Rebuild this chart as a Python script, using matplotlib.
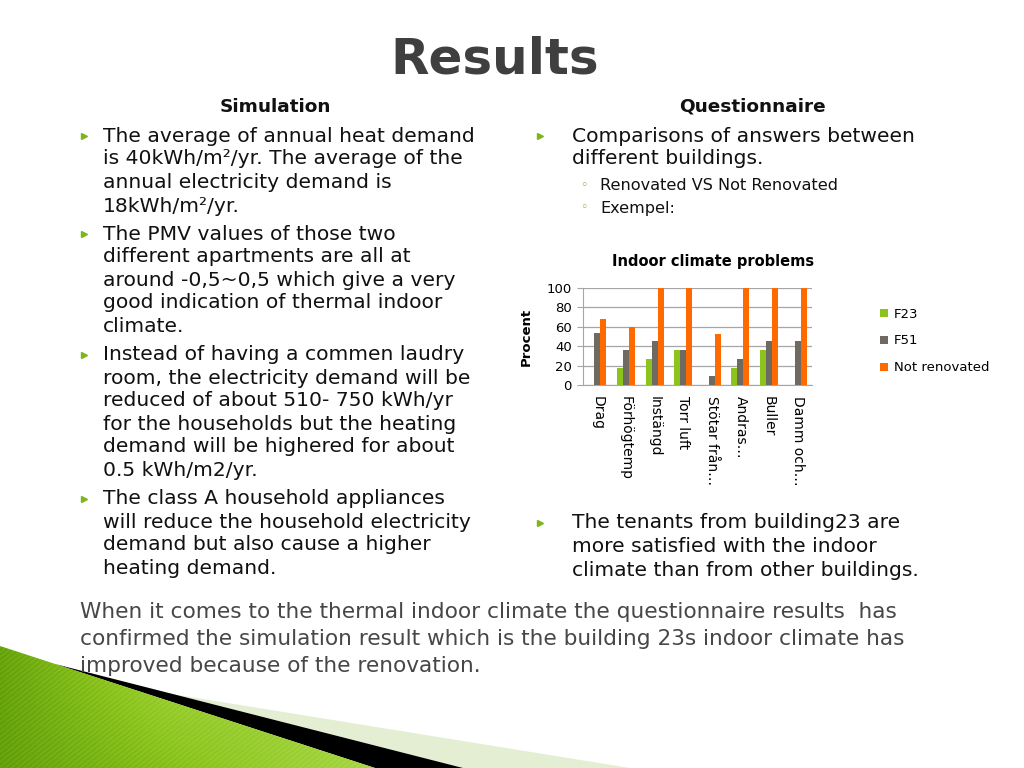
import numpy as np
import matplotlib
matplotlib.use("Agg")
import matplotlib.pyplot as plt
from matplotlib.patches import Polygon

# chart data
categories = ["Drag", "Förhögtemp", "Instängd", "Torr luft",
              "Stötar från…", "Andras…", "Buller", "Damm och…"]
f23 = [0, 18, 27, 36, 0, 18, 36, 0]
f51 = [54, 36, 45, 36, 9, 27, 45, 45]
not_renovated = [68, 60, 100, 100, 53, 100, 100, 100]
series_names = ["F23", "F51", "Not renovated"]
series_colors = ["#8CC31E", "#6E6A62", "#FF6A00"]
y_ticks = [0, 20, 40, 60, 80, 100]

left_lines = [
    ("The average of annual heat demand", True),
    ("is 40kWh/m²/yr. The average of the", False),
    ("annual electricity demand is", False),
    ("18kWh/m²/yr.", False),
    ("The PMV values of those two", True),
    ("different apartments are all at", False),
    ("around -0,5~0,5 which give a very", False),
    ("good indication of thermal indoor", False),
    ("climate.", False),
    ("Instead of having a commen laudry", True),
    ("room, the electricity demand will be", False),
    ("reduced of about 510- 750 kWh/yr", False),
    ("for the households but the heating", False),
    ("demand will be highered for about", False),
    ("0.5 kWh/m2/yr.", False),
    ("The class A household appliances", True),
    ("will reduce the household electricity", False),
    ("demand but also cause a higher", False),
    ("heating demand.", False),
]
left_y = [136, 159, 183, 206, 234, 257, 280, 303, 326,
          355, 378, 401, 424, 447, 471, 499, 522, 545, 568]

bottom_text = ["When it comes to the thermal indoor climate the questionnaire results  has",
               "confirmed the simulation result which is the building 23s indoor climate has",
               "improved because of the renovation."]

W, H = 1024, 768
fig = plt.figure(figsize=(W / 100, H / 100), dpi=100)
fig.patch.set_facecolor("white")

# slide layer in pixel coords
bg = fig.add_axes([0, 0, 1, 1])
bg.set_xlim(0, W)
bg.set_ylim(H, 0)
bg.axis("off")

txt = "#111111"
bullet_green = "#7DB51C"
body_fs = 14.6

# decoration bottom-left
pale = Polygon([[110, 684], [630, 768], [463, 768], [60, 666]], closed=True,
               facecolor="#E3EED3", edgecolor="none", zorder=1)
bg.add_patch(pale)
black = Polygon([[55, 664], [463, 768], [375, 768]], closed=True,
                facecolor="black", edgecolor="none", zorder=2)
bg.add_patch(black)
green = Polygon([[0, 646], [375, 768], [0, 768]], closed=True,
                facecolor="none", edgecolor="none", zorder=3)
bg.add_patch(green)
xx, yy = np.meshgrid(np.linspace(0, 1, 300), np.linspace(0, 1, 120))
grad = np.clip(0.45 + 0.6 * xx - 0.3 * yy - 0.6 * np.abs(xx - 0.45) * (1 - yy)
               + 0.06 * np.sin(xx * 380 + yy * 160), 0, 1)
cmap = matplotlib.colors.LinearSegmentedColormap.from_list("g", ["#5C9A08", "#8DC51F", "#ADDC4E"])
im = bg.imshow(grad, cmap=cmap, extent=[0, 380, 768, 640], aspect="auto", zorder=3)
im.set_clip_path(green)
bg.set_xlim(0, W)
bg.set_ylim(H, 0)

# title
bg.text(495, 60, "Results", ha="center", va="center", fontsize=36,
        fontweight="bold", color="#3F3F3F", zorder=5)

# column headings
bg.text(275, 107, "Simulation", ha="center", va="center", fontsize=13.3,
        fontweight="bold", color=txt)
bg.text(752, 107, "Questionnaire", ha="center", va="center", fontsize=13.3,
        fontweight="bold", color=txt)

for (line, bullet), y in zip(left_lines, left_y):
    bg.text(103, y, line, ha="left", va="center", fontsize=body_fs, color=txt)
    if bullet:
        bg.plot(84, y, marker=">", markersize=5, color=bullet_green)

bg.text(572, 136, "Comparisons of answers between", ha="left", va="center",
        fontsize=body_fs, color=txt)
bg.plot(540, 136, marker=">", markersize=5, color=bullet_green)
bg.text(572, 159, "different buildings.", ha="left", va="center", fontsize=body_fs, color=txt)
for s, y in [("Renovated VS Not Renovated", 185), ("Exempel:", 208)]:
    bg.text(600, y, s, ha="left", va="center", fontsize=11.6, color=txt)
    bg.text(580, y, "◦", ha="left", va="center", fontsize=9, color=bullet_green)

for s, y, b in [("The tenants from building23 are", 523, True),
                ("more satisfied with the indoor", 547, False),
                ("climate than from other buildings.", 571, False)]:
    bg.text(572, y, s, ha="left", va="center", fontsize=body_fs, color=txt)
    if b:
        bg.plot(540, y, marker=">", markersize=5, color=bullet_green)

for i, s in enumerate(bottom_text):
    bg.text(80, 612 + 27 * i, s, ha="left", va="center", fontsize=15.6,
            color="#474747", zorder=6)

# chart
ax = fig.add_axes([583 / W, 1 - 385 / H, 229 / W, 97 / H])
x = np.arange(len(categories))
bw = 0.21
for k, (vals, name, col) in enumerate(zip([f23, f51, not_renovated], series_names, series_colors)):
    ax.bar(x + (k - 1) * bw, vals, width=bw, color=col, label=name, zorder=3)
ax.set_xlim(-0.5, len(categories) - 0.5)
ax.set_ylim(0, 100)
ax.set_yticks(y_ticks)
ax.set_yticklabels([str(v) for v in y_ticks], fontsize=9.5)
ax.grid(axis="y", color="#A6A6A6", linewidth=0.9, zorder=0)
ax.set_xticks(x)
ax.set_xticklabels(categories, rotation=-90, fontsize=10, va="top", ha="center")
ax.tick_params(axis="x", length=0, pad=8)
ax.tick_params(axis="y", length=4, color="#A6A6A6", pad=4)
for sp in ["top", "right"]:
    ax.spines[sp].set_visible(False)
for sp in ["left", "bottom"]:
    ax.spines[sp].set_color("#A6A6A6")
ax.set_ylabel("Procent", fontsize=9.5, fontweight="bold", labelpad=10)
ax.set_title("Indoor climate problems", fontsize=10.5, fontweight="bold",
             x=0.57, pad=16)
ax.legend(loc="upper left", bbox_to_anchor=(1.245, 0.92), frameon=False,
          fontsize=9.5, handlelength=0.6, handleheight=0.6, labelspacing=1.05,
          handletextpad=0.45)

fig.savefig("out.png", dpi=100)
